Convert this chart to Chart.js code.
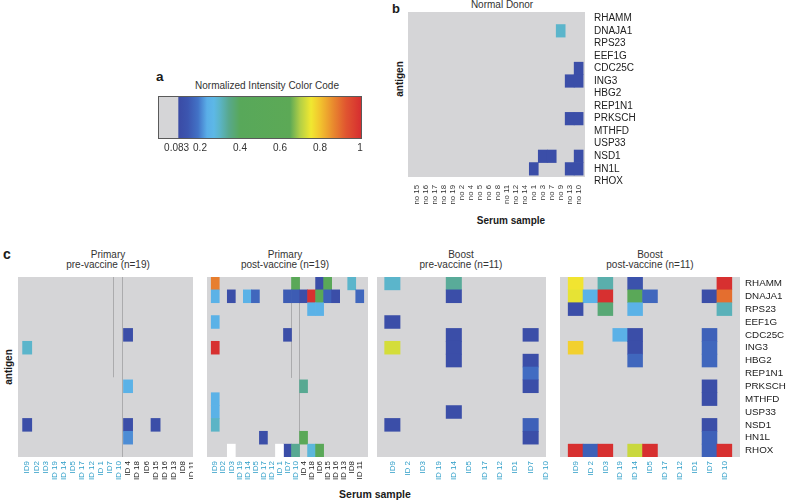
<!DOCTYPE html>
<html>
<head>
<meta charset="utf-8">
<script src="https://cdn.jsdelivr.net/npm/chart.js@4.4.1/dist/chart.umd.min.js"></script>
<style>
html,body{margin:0;padding:0;background:#fff;}
#wrap{position:relative;width:787px;height:500px;overflow:hidden;font-family:"Liberation Sans",Arial,Helvetica,sans-serif;color:#222;}
canvas{position:absolute;}
.t{position:absolute;white-space:nowrap;line-height:10px;font-size:10px;color:#333;}
.c{text-align:center;width:200px;}
.b{font-weight:bold;color:#1a1a1a;}
.r{transform:rotate(-90deg);text-align:center;width:60px;}
</style>
</head>
<body>
<div id="wrap">
  <div class="t b" style="left:156px;top:70px;font-size:13.5px;line-height:13.5px;">a</div>
  <div class="t c" style="left:167px;top:81px;">Normalized Intensity Color Code</div>
  <canvas id="cbar" width="212" height="63" style="left:158px;top:96px;"></canvas>

  <div class="t b" style="left:392px;top:2px;font-size:13px;line-height:13px;">b</div>
  <div class="t c" style="left:402px;top:0px;">Normal Donor</div>
  <div class="t b r" style="left:370px;top:74px;">antigen</div>
  <div class="t b c" style="left:411px;top:216px;">Serum sample</div>
  <canvas id="hb" width="237" height="197" style="left:408px;top:12px;"></canvas>

  <div class="t b" style="left:3px;top:247px;font-size:14px;line-height:14px;">c</div>
  <div class="t c" style="left:8px;top:249.5px;">Primary<br>pre-vaccine (n=19)</div>
  <div class="t c" style="left:185px;top:249.5px;">Primary<br>post-vaccine (n=19)</div>
  <div class="t c" style="left:361px;top:249.5px;">Boost<br>pre-vaccine (n=11)</div>
  <div class="t c" style="left:550px;top:249.5px;">Boost<br>post-vaccine (n=11)</div>
  <div class="t b r" style="left:-21px;top:362px;">antigen</div>
  <div class="t b c" style="left:275px;top:488.5px;font-size:10.5px;">Serum sample</div>
  <canvas id="c1" width="175" height="210" style="left:18px;top:277px;"></canvas>
  <canvas id="c2" width="161" height="210" style="left:207px;top:277px;"></canvas>
  <canvas id="c3" width="184" height="210" style="left:377px;top:277px;"></canvas>
  <canvas id="c4" width="227" height="210" style="left:560px;top:277px;"></canvas>
</div>
<script>
// ---------------- data ----------------
const antigens = ['RHAMM','DNAJA1','RPS23','EEF1G','CDC25C','ING3','HBG2','REP1N1','PRKSCH','MTHFD','USP33','NSD1','HN1L','RHOX'];
const normalSamples = ['no 15','no 16','no 17','no 18','no 19','no 2','no 4','no 5','no 6','no 8','no 11','no 12','no 14','no 1','no 3','no 7','no 9','no 13','no 10'];
const primarySamples = ['ID9','ID2','ID3','ID 19','ID 14','ID5','ID 17','ID 12','ID 1','ID7','ID 10','ID 4','ID 18','ID6','ID 15','ID 16','ID 13','ID8','ID 11'];
const boostSamples = ['ID9','ID 2','ID3','ID 19','ID 14','ID5','ID 17','ID 12','ID1','ID7','ID 10'];

// colour-code ticks
const colorTicks = [0.083, 0.2, 0.4, 0.6, 0.8, 1];
const colorTickLabels = ['0.083', '0.2', '0.4', '0.6', '0.8', '1'];

// cells: [sample index, antigen index, normalized intensity]
const normalCells = [
  [16,1,0.295],[18,4,0.1],[17,5,0.1],[18,5,0.1],[17,8,0.1],[18,8,0.1],
  [14,11,0.1],[15,11,0.1],[18,11,0.1],[13,12,0.1],[17,12,0.1],[18,12,0.1]
];
const primaryPreCells = [
  [0,5,0.295],[11,4,0.1],[11,8,0.25],[0,11,0.1],[11,11,0.1],[14,11,0.1],[11,12,0.21]
];
const primaryPostCells = [
  [0,0,0.88],[10,0,0.5],[13,0,0.1],[14,0,0.5],[17,0,0.295],
  [0,1,0.25],[2,1,0.1],[4,1,0.25],[5,1,0.17],[9,1,0.15],[10,1,0.15],[11,1,0.1],[12,1,1.0],[13,1,0.5],[14,1,0.16],[15,1,0.1],[18,1,0.17],
  [12,2,0.25],[13,2,0.25],
  [0,3,0.25],
  [9,4,0.1],
  [0,5,1.0],
  [11,8,0.34],
  [0,9,0.25],[0,10,0.25],[0,11,0.3],
  [6,12,0.1],[11,12,0.5],
  [9,13,0.1],[10,13,0.34],[12,13,0.28],[13,13,0.5]
];
const primaryPostMissing = [[2,13],[8,13]];
const boostPreCells = [
  [0,0,0.295],[4,0,0.335],[4,1,0.1],[0,3,0.1],[4,4,0.1],[4,5,0.1],[4,6,0.1],[9,4,0.1],
  [0,5,0.73],[9,6,0.1],[9,7,0.18],[9,8,0.1],[4,10,0.1],[0,11,0.1],[9,11,0.16],[9,12,0.1]
];
const boostPostCells = [
  [0,0,0.76],[2,0,0.32],[4,0,0.12],[10,0,1.0],
  [0,1,0.745],[1,1,0.25],[2,1,1.0],[4,1,0.5],[5,1,0.17],[9,1,0.1],[10,1,0.9],
  [0,2,0.1],[2,2,0.37],[4,2,0.25],[10,2,0.31],
  [3,4,0.245],[4,4,0.1],[9,4,0.16],
  [0,5,0.785],[4,5,0.1],[9,5,0.17],
  [4,6,0.17],[9,6,0.17],
  [9,8,0.1],[9,9,0.1],
  [9,11,0.1],[9,12,0.16],
  [0,13,1.0],[1,13,0.16],[2,13,1.0],[4,13,0.72],[5,13,1.0],[9,13,0.16],[10,13,1.0]
];

// ---------------- colour map ----------------
const GRAY_END = 0.09;
const colorStops = [
  [0.083,'#3a4aa4'],[0.14,'#3c56b0'],[0.19,'#4272c6'],[0.235,'#5aaee8'],[0.27,'#5db8e6'],
  [0.30,'#5bb4c6'],[0.345,'#58a88c'],[0.40,'#58a85a'],[0.65,'#5ca956'],[0.70,'#b2cf46'],
  [0.755,'#f1e830'],[0.80,'#f2c42e'],[0.87,'#e8862e'],[0.93,'#e05530'],[1.0,'#d73030']
];
function hexToRgb(h){const n=parseInt(h.slice(1),16);return [(n>>16)&255,(n>>8)&255,n&255];}
function cmap(v){
  const s=colorStops;
  if(v<=s[0][0]) return s[0][1];
  for(let i=1;i<s.length;i++){
    if(v<=s[i][0]){
      const a=hexToRgb(s[i-1][1]), b=hexToRgb(s[i][1]);
      const t=(v-s[i-1][0])/(s[i][0]-s[i-1][0]);
      return 'rgb('+a.map((x,k)=>Math.round(x+(b[k]-x)*t)).join(',')+')';
    }
  }
  return s[s.length-1][1];
}

const FONT='"Liberation Sans", Arial, Helvetica, sans-serif';
Chart.defaults.font.family=FONT;

const heatPlugin={
  id:'heatBg',
  beforeDatasetsDraw(chart,args,opts){
    if(!opts||!opts.color) return;
    const a=chart.chartArea, ctx=chart.ctx;
    ctx.save();
    ctx.fillStyle=opts.color;
    ctx.fillRect(a.left,a.top,a.width,a.height);
    const xs=chart.scales.x, ys=chart.scales.y;
    (opts.lines||[]).forEach(l=>{
      const x=Math.round(xs.getPixelForValue(l.x))-0.5;
      ctx.strokeStyle=opts.lineColor; ctx.lineWidth=1;
      ctx.beginPath(); ctx.moveTo(x,ys.getPixelForValue(l.from)); ctx.lineTo(x,ys.getPixelForValue(l.to)); ctx.stroke();
    });
    ctx.restore();
  },
  afterDatasetsDraw(chart,args,opts){
    if(!opts||!opts.frame) return;
    const a=chart.chartArea, ctx=chart.ctx;
    ctx.save(); ctx.strokeStyle=opts.frame; ctx.lineWidth=1;
    ctx.strokeRect(a.left+0.5,a.top+0.5,a.width-1,a.height-1);
    ctx.restore();
  }
};
Chart.register(heatPlugin);

function heatmap(id,cfg){
  const data=cfg.cells.map(c=>({x:c[0]+0.5,y:[c[1],c[1]+1],v:c[2]}))
    .concat((cfg.missing||[]).map(c=>({x:c[0]+0.5,y:[c[1],c[1]+1],v:null})));
  return new Chart(document.getElementById(id),{
    type:'bar',
    data:{datasets:[{
      data,
      backgroundColor:ctx=>{const r=ctx.raw; if(!r||typeof r!=='object') return '#d5d5d7'; return r.v==null?'#ffffff':cmap(r.v);},
      borderWidth:0, categoryPercentage:1, barPercentage:1, clip:0
    }]},
    options:{
      responsive:false, animation:false, devicePixelRatio:1,
      layout:{padding:{left:0,top:0,right:cfg.padRight||0,bottom:0}},
      events:[],
      plugins:{legend:{display:false},tooltip:{enabled:false},
        heatBg:{color:'#d5d5d7',lines:cfg.lines||[],lineColor:'#ababad'}},
      scales:{
        x:{type:'linear',min:0,max:cfg.xMax,
          grid:{display:false,drawTicks:false},border:{display:false},
          afterBuildTicks:s=>{s.ticks=cfg.xLabels.map((_,i)=>({value:i+0.5}));},
          afterFit:s=>{s.height=cfg.xAxisH;s.paddingLeft=0;s.paddingRight=0;},
          ticks:{autoSkip:false,minRotation:90,maxRotation:90,padding:cfg.xPad,
            font:{family:FONT,size:cfg.xFont},color:c=>cfg.xColor(c.index),
            callback:(v,i)=>cfg.xLabels[i]}
        },
        y:{type:'linear',reverse:true,min:0,max:cfg.yMax,display:!!cfg.showY,position:'right',
          grid:{display:false,drawTicks:false},border:{display:false},
          afterBuildTicks:s=>{s.ticks=antigens.map((_,i)=>({value:i+0.5}));},
          afterFit:s=>{if(cfg.showY)s.width=cfg.yAxisW;s.paddingTop=0;s.paddingBottom=0;},
          ticks:{autoSkip:false,padding:cfg.yPad||0,font:{family:FONT,size:cfg.yFont||10},color:'#222',
            callback:(v,i)=>antigens[i]}
        }
      }
    }
  });
}

const CYAN='#2f9ec8';
const primaryColor=i=>i<=10?CYAN:'#222';

heatmap('hb',{cells:normalCells,xLabels:normalSamples,xMax:18.69,yMax:13.15,xAxisH:32,xPad:8,xFont:7.8,
  xColor:()=>'#333',showY:true,yAxisW:60,yPad:9,yFont:10});
heatmap('c1',{cells:primaryPreCells,xLabels:primarySamples,xMax:18.08,yMax:14,xAxisH:30,xPad:4,xFont:8,
  xColor:primaryColor,lines:[{x:10,from:0,to:7.8},{x:11,from:0,to:14}]});
heatmap('c2',{cells:primaryPostCells,missing:primaryPostMissing,xLabels:primarySamples,xMax:19,yMax:14,xAxisH:30,xPad:4,xFont:8,
  xColor:primaryColor,lines:[{x:10,from:2,to:7.85},{x:11,from:0,to:14}]});
heatmap('c3',{cells:boostPreCells,xLabels:boostSamples,xMax:10,yMax:14,xAxisH:30,xPad:4,xFont:8,padRight:15,
  xColor:()=>CYAN});
heatmap('c4',{cells:boostPostCells,xLabels:boostSamples,xMax:11,yMax:14,xAxisH:30,xPad:4,xFont:8,
  xColor:()=>CYAN,showY:true,yAxisW:47,yPad:5,yFont:9.8});

// colour bar
new Chart(document.getElementById('cbar'),{
  type:'bar',
  data:{labels:['code'],datasets:[
    {data:[[-0.01,GRAY_END]],backgroundColor:'#d5d5d7',borderWidth:0,categoryPercentage:1,barPercentage:1,grouped:false},
    {data:[[GRAY_END,1.01]],borderWidth:0,categoryPercentage:1,barPercentage:1,grouped:false,
      backgroundColor:ctx=>{
        const ch=ctx.chart, xs=ch.scales.x;
        if(!ch.chartArea||!xs) return '#5aa858';
        const x0=xs.getPixelForValue(GRAY_END), x1=xs.getPixelForValue(1.01);
        const g=ch.ctx.createLinearGradient(x0,0,x1,0);
        colorStops.forEach(s=>{const t=Math.min(1,Math.max(0,(s[0]-GRAY_END)/(1.01-GRAY_END)));g.addColorStop(t,s[1]);});
        return g;
      }}
  ]},
  options:{
    indexAxis:'y',responsive:false,animation:false,devicePixelRatio:1,events:[],
    layout:{padding:{left:0,top:0,right:8,bottom:0}},
    plugins:{legend:{display:false},tooltip:{enabled:false},heatBg:{frame:'#5a5a5a'}},
    scales:{
      y:{type:'category',display:false},
      x:{type:'linear',min:-0.01,max:1.01,grid:{display:false,drawTicks:false},border:{display:false},
        afterBuildTicks:s=>{s.ticks=colorTicks.map(v=>({value:v}));},
        afterFit:s=>{s.height=20;s.paddingLeft=0;s.paddingRight=0;},
        ticks:{autoSkip:false,maxRotation:0,minRotation:0,padding:3,font:{family:FONT,size:10},color:'#333',
          callback:(v,i)=>colorTickLabels[i]}}
    }
  }
});
</script>
</body>
</html>
